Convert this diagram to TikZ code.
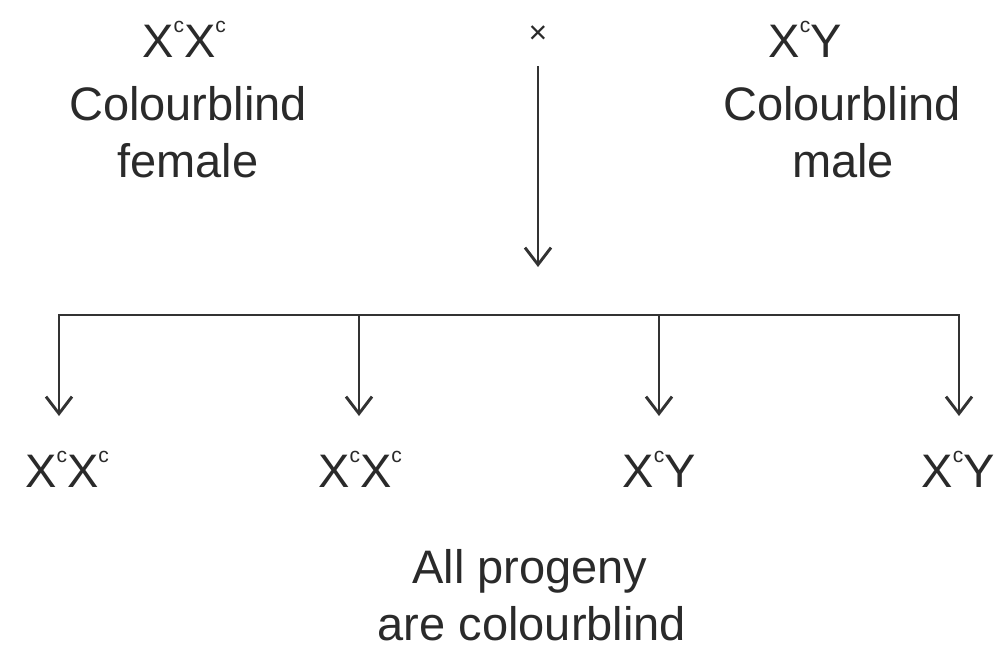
\documentclass[tikz,border=0pt]{standalone}
\usepackage{fontspec}
\setmainfont{Liberation Sans}
\usetikzlibrary{arrows.meta}
\newcommand{\supc}{\raisebox{25pt}{\fontsize{21}{21}\selectfont c}}
\definecolor{ink}{HTML}{2A2A2A}
\definecolor{lineink}{HTML}{333333}
\tikzset{
  lbl/.style={anchor=base, inner sep=0pt, text=ink, font=\fontsize{47}{57}\selectfont},
  conn/.style={draw=lineink, line width=2.9pt},
  arr/.style={conn, -{Straight Barb[length=17pt,width=26pt]}},
}
\begin{document}
\begin{tikzpicture}[x=1pt,y=-1pt]
\useasboundingbox (0,0) rectangle (996,648);
\fill[white] (0,0) rectangle (996,648);
% parents
\node[lbl] (fg) at (184,57) {X\supc X\supc};
\node[lbl] (fc) at (188,120) {Colourblind};
\node[lbl] (ff) at (188,177) {female};
\node[lbl] (mg) at (805,57) {X\supc Y};
\node[lbl] (mc) at (842,120) {Colourblind};
\node[lbl] (mm) at (843,177) {male};
\node[inner sep=0pt, text=ink, font=\fontsize{32}{32}\selectfont] (cross) at (538,35) {×};
% central arrow
\coordinate (ctop) at (538,66);
\coordinate (cbot) at (538,267);
\draw[arr] (ctop) -- (cbot);
% bar
\coordinate (b1) at (59,315);
\coordinate (b2) at (359,315);
\coordinate (b3) at (659,315);
\coordinate (b4) at (959,315);
\draw[conn, line cap=rect] (b1) -- (b4);
\coordinate (t1) at (59,416);
\coordinate (t2) at (359,416);
\coordinate (t3) at (659,416);
\coordinate (t4) at (959,416);
\draw[arr] (b1) -- (t1);
\draw[arr] (b2) -- (t2);
\draw[arr] (b3) -- (t3);
\draw[arr] (b4) -- (t4);
% progeny
\node[lbl] (p1) at (67,487) {X\supc X\supc};
\node[lbl] (p2) at (360,487) {X\supc X\supc};
\node[lbl] (p3) at (659,487) {X\supc Y};
\node[lbl] (p4) at (958,487) {X\supc Y};
% note
\node[lbl] (n1) at (530,583) {All progeny};
\node[lbl] (n2) at (532,640) {are colourblind};
\end{tikzpicture}
\end{document}
